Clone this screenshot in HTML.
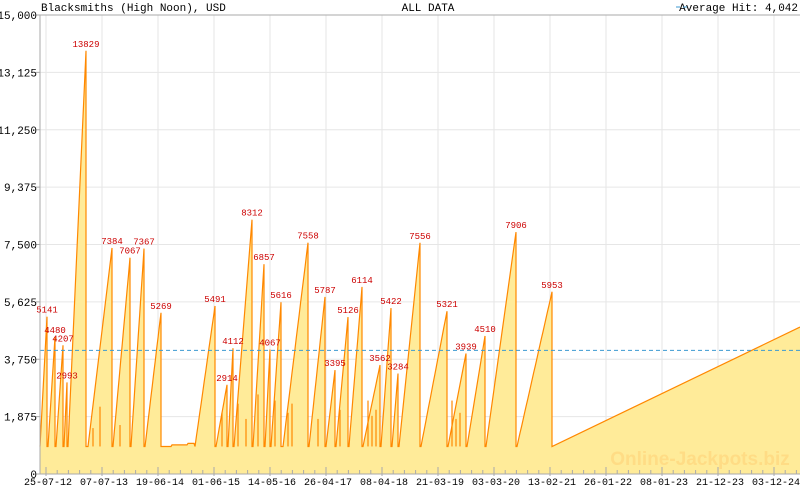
<!DOCTYPE html>
<html><head><meta charset="utf-8"><style>
html,body{margin:0;padding:0;background:#fff;}
svg{display:block;font-family:"Liberation Mono","DejaVu Sans Mono",monospace;}
</style></head><body>
<svg id="s" width="800" height="490" xmlns="http://www.w3.org/2000/svg"></svg>
<script>
const s=document.getElementById('s');
const T=474,TOP=15,L=40,R=800;
const k=(T-TOP)/15000;
const Y=v=>T-v*k;
let h='';
const yl=['0','1,875','3,750','5,625','7,500','9,375','11,250','13,125','15,000'];
for(let i=0;i<=8;i++){const y=Y(i*1875);
 if(i>0)h+=`<line x1="${L}" x2="${R}" y1="${y}" y2="${y}" stroke="#e6e6e6"/>`;
 h+=`<line x1="${L-4}" x2="${L}" y1="${y}" y2="${y}" stroke="#aaa"/>`;
 h+=`<text x="${L-3}" y="${y+4}" font-size="11" text-anchor="end" fill="#000">${yl[i]}</text>`;}
const xl=['25-07-12','07-07-13','19-06-14','01-06-15','14-05-16','26-04-17','08-04-18','21-03-19','03-03-20','13-02-21','26-01-22','08-01-23','21-12-23','03-12-24'];
for(let i=0;i<14;i++){const x=46+56*i;
 h+=`<line x1="${x}" x2="${x}" y1="${TOP}" y2="${T}" stroke="#e6e6e6"/>`;}
const segs=[[40,47,5141],[48,55,4480],[56,63,4207],[64,67,2993],[68,86,13829],[88,112,7384],[113,130,7067],[131,144,7367],[145,161,5269],
[195,215,5491],[216,227,2914],[228,233,4112],[234,252,8312],[253,264,6857],[265,270,4067],[271,281,5616],[283,308,7558],[309,325,5787],[326,335,3395],[336,348,5126],[349,362,6114],[363,380,3562],[381,391,5422],[392,398,3284],[399,420,7556],[421,447,5321],[448,466,3939],[467,485,4510],[486,516,7906],[517,552,5953]];
let pts=[];
for(const [a,b,p] of segs){
 if(a===195){pts.push([161,Y(900)],[171,Y(900)],[172,Y(950)],[187,Y(950)],[188,Y(1000)],[194,Y(1000)]);}
 pts.push([a,Y(900)]);
 const n=Math.max(2,Math.round((b-a)/1.5));
 for(let i=1;i<=n;i++){const x=a+(b-a)*i/n;const v=900+(p-900)*i/n;pts.push([x,Y(v)]);}
 pts.push([b,Y(900)]);
}
pts.push([552,Y(900)],[800,Y(4800)]);
let d='M'+pts.map(p=>p[0].toFixed(1)+','+p[1].toFixed(1)).join(' L');
h+=`<path d="${d} L800,${T} L40,${T} Z" fill="#ffeb99" stroke="none"/>`;
h+=`<path d="${d}" fill="none" stroke="#ff8800" stroke-width="1.2"/>`;
const sp=[[100,2200],[93,1500],[120,1600],[222,2000],[238,2300],[246,1800],[258,2600],[275,2400],[288,2000],[292,2300],[318,1800],[340,2100],[368,2400],[372,1900],[376,2100],[452,2400],[456,1800],[460,2000]];
for(const [x,v] of sp){h+=`<line x1="${x}" x2="${x}" y1="${Y(900)}" y2="${Y(v)}" stroke="#ff8800" stroke-width="1.2"/>`;}
h+=`<text x="700" y="465" font-family="Liberation Sans,sans-serif" font-weight="bold" font-size="19" fill="#ffdc85" text-anchor="middle">Online-Jackpots.biz</text>`;
const ay=Y(4042);
h+=`<line x1="${L}" x2="${R}" y1="${ay}" y2="${ay}" stroke="#3d9ad1" stroke-dasharray="4,3"/>`;
h+=`<line x1="${L}" x2="${R}" y1="${TOP}" y2="${TOP}" stroke="#aaa"/>`;
h+=`<line x1="${L}" x2="${L}" y1="${TOP}" y2="${T}" stroke="#aaa"/>`;
h+=`<line x1="${L}" x2="${R}" y1="${T}" y2="${T}" stroke="#aaa"/>`;
for(let x=46;x<800;x+=11.2){h+=`<line x1="${x}" x2="${x}" y1="${T-4}" y2="${T}" stroke="#aaa"/>`;}
for(let i=0;i<14;i++){const x=46+56*i;h+=`<line x1="${x}" x2="${x}" y1="${T-7}" y2="${T+2}" stroke="#aaa"/><text x="${x+2}" y="485" font-size="10" text-anchor="middle">${xl[i]}</text>`;}
for(const [a,b,p] of segs){h+=`<text x="${b}" y="${Y(p)-4}" font-size="9" fill="#cc0000" text-anchor="middle">${p}</text>`;}
h+=`<text x="41" y="11" font-size="11">Blacksmiths (High Noon), USD</text>`;
h+=`<text x="428" y="11" font-size="11" text-anchor="middle">ALL DATA</text>`;
h+=`<text x="798" y="11" font-size="11" text-anchor="end">Average Hit: 4,042</text>`;
h+=`<line x1="676" x2="688" y1="7" y2="7" stroke="#3d9ad1" stroke-dasharray="4,3"/>`;
s.innerHTML=h;
</script>
</body></html>
